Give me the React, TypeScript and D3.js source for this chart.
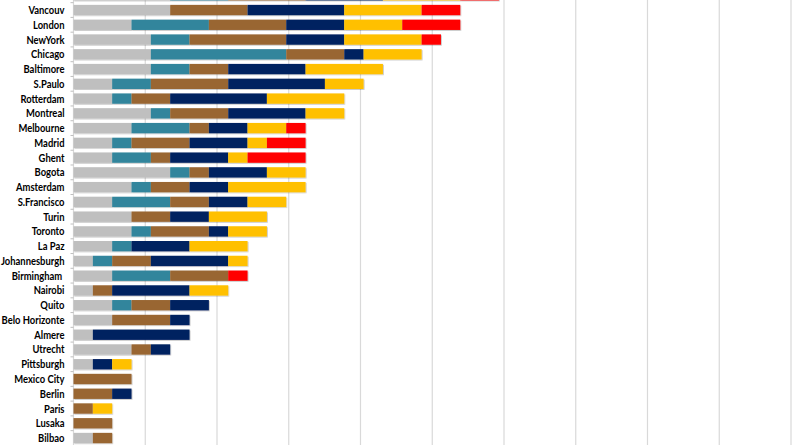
import React from 'react';
import * as d3 from 'd3';

// first row is cut off at the top edge of the picture
const cities = ['', 'Vancouv', 'London', 'NewYork', 'Chicago', 'Baltimore', 'S.Paulo', 'Rotterdam', 'Montreal',
  'Melbourne', 'Madrid', 'Ghent', 'Bogota', 'Amsterdam', 'S.Francisco', 'Turin', 'Toronto', 'La Paz',
  'Johannesburgh', 'Birmingham ', 'Nairobi', 'Quito', 'Belo Horizonte', 'Almere', 'Utrecht', 'Pittsburgh',
  'Mexico City', 'Berlin', 'Paris', 'Lusaka', 'Bilbao'];

const grey   = [5, 5, 3, 4, 4, 4, 2, 2, 4, 3, 2, 2, 5, 3, 2, 3, 3, 2, 1, 2, 1, 2, 2, 1, 3, 1, 0, 0, 0, 0, 1];
const teal   = [3, 0, 4, 2, 7, 2, 2, 1, 1, 3, 1, 2, 1, 1, 3, 0, 1, 1, 1, 3, 0, 1, 0, 0, 0, 0, 0, 0, 0, 0, 0];
const brown  = [4, 4, 4, 5, 3, 2, 4, 2, 3, 1, 3, 1, 1, 2, 2, 2, 3, 0, 2, 3, 1, 2, 3, 0, 1, 0, 3, 2, 1, 2, 1];
const navy   = [4, 5, 3, 3, 1, 4, 5, 5, 4, 2, 3, 3, 3, 2, 2, 2, 1, 3, 4, 0, 4, 2, 1, 5, 1, 1, 0, 1, 0, 0, 0];
const yellow = [4, 4, 3, 4, 3, 4, 2, 4, 2, 2, 1, 1, 2, 4, 2, 3, 2, 3, 1, 0, 2, 0, 0, 0, 0, 1, 0, 0, 1, 0, 0];
const red    = [2, 2, 3, 1, 0, 0, 0, 0, 0, 1, 2, 3, 0, 0, 0, 0, 0, 0, 0, 1, 0, 0, 0, 0, 0, 0, 0, 0, 0, 0, 0];

const seriesKeys = ['grey', 'teal', 'brown', 'navy', 'yellow', 'red'];
const seriesValues = [grey, teal, brown, navy, yellow, red];
const colors = ['#bfbfbf', '#31859c', '#996633', '#002060', '#ffc000', '#ff0000'];

const gridStep = 3.71;
const gridCount = 10;

const W = 800;
const H = 445;

export default function App() {
  const rows = cities.map((c, i) => {
    const r: any = { city: c };
    seriesKeys.forEach((k, j) => { r[k] = seriesValues[j][i]; });
    return r;
  });

  const stacked = d3.stack<any>().keys(seriesKeys)(rows);

  const x = d3.scaleLinear().domain([0, gridStep * gridCount]).range([73.5, 791]);
  const y = d3.scaleBand<string>()
    .domain(cities)
    .range([-12.1, 445.4])
    .paddingInner(0.3)
    .paddingOuter(0.15);

  const gap = (y.step() - y.bandwidth()) / 2;
  const grid = d3.range(0, gridCount + 1).map(i => i * gridStep);

  return (
    <div style={{ position: 'absolute', left: 0, top: 0 }}>
      <svg width={W} height={H} style={{ display: 'block', background: '#fff' }}>
        <defs>
          <filter id="sh" x="-5%" y="-30%" width="110%" height="170%">
            <feDropShadow dx="0.8" dy="0.8" stdDeviation="0.6" floodColor="#000" floodOpacity="0.25" />
          </filter>
        </defs>
        <g>
          {grid.map((g, i) => (
            <line key={i} x1={x(g)} x2={x(g)} y1={0} y2={H} stroke="#d9d9d9" strokeWidth={1.2} />
          ))}
        </g>
        <g>
          {cities.map((c, i) => (
            <line key={i} x1={x(0) - 3} x2={x(0)} y1={(y(c) as number) - gap} y2={(y(c) as number) - gap}
              stroke="#bfbfbf" strokeWidth={1} />
          ))}
        </g>
        <g filter="url(#sh)">
          {stacked.map((s, j) => (
            <g key={s.key} fill={colors[j]}>
              {s.map((d, i) => (d[1] - d[0] > 0 ? (
                <rect key={i} x={x(d[0])} y={y(cities[i])} width={x(d[1]) - x(d[0])} height={y.bandwidth()} />
              ) : null))}
            </g>
          ))}
        </g>
        {/* labels squeezed horizontally to get close to the narrow original face */}
        <g transform="translate(64.5,0) scale(0.82,1)" fontFamily="Lato, 'Noto Sans', sans-serif"
          fontWeight={700} fontSize={11.5} fill="#000" textAnchor="end">
          {cities.map((c, i) => (
            <text key={i} x={0} y={(y(c) as number) + y.bandwidth() / 2} dy="0.35em" style={{ whiteSpace: 'pre' }}>
              {c}
            </text>
          ))}
        </g>
      </svg>
    </div>
  );
}
